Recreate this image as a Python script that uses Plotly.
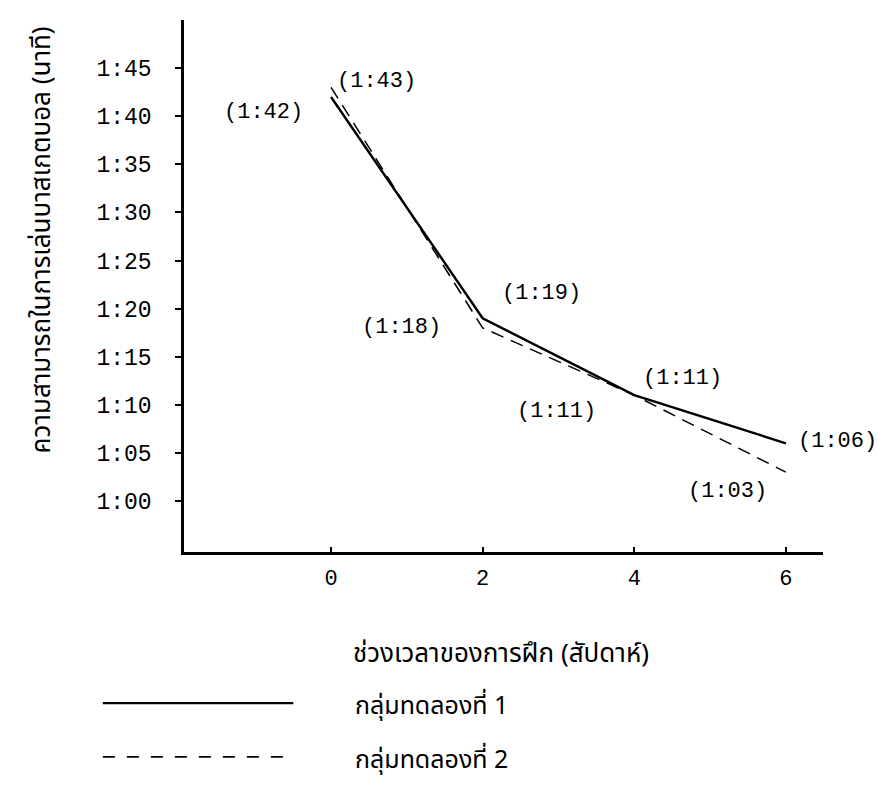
import plotly.graph_objects as go

# Data (seconds)
weeks = [0, 2, 4, 6]
group1 = [102, 79, 71, 66]   # กลุ่มทดลองที่ 1
group2 = [103, 78, 71, 63]   # กลุ่มทดลองที่ 2
label1 = ["(1:42)", "(1:19)", "(1:11)", "(1:06)"]
label2 = ["(1:43)", "(1:18)", "(1:11)", "(1:03)"]
ytick_vals = [60, 65, 70, 75, 80, 85, 90, 95, 100, 105]
ytick_text = ["1:00", "1:05", "1:10", "1:15", "1:20", "1:25", "1:30", "1:35", "1:40", "1:45"]
xtick_vals = [0, 2, 4, 6]

MONO = "Liberation Mono, Courier New, monospace"
THAI = "Noto Sans Thai, Loma, Garuda, Noto Sans, sans-serif"

fig = go.Figure()
fig.add_trace(go.Scatter(x=weeks, y=group1, mode="lines", line=dict(color="black", width=2.4), showlegend=False))
fig.add_trace(go.Scatter(x=weeks, y=group2, mode="lines", line=dict(color="black", width=1.5, dash="13px,8px"), showlegend=False))

# label offsets (pixels) per point: (xshift, yshift, xanchor)
off1 = [(-26, -16, "right"), (17, 25, "left"), (7, 17, "left"), (10, 2, "left")]
off2 = [(4, 6, "left"), (-40, 0, "right"), (-36, -16, "right"), (-17, -19, "right")]
for xs, ys, labs, offs in [(weeks, group1, label1, off1), (weeks, group2, label2, off2)]:
    for xv, yv, t, (dx, dy, anc) in zip(xs, ys, labs, offs):
        fig.add_annotation(x=xv, y=yv, text=t, showarrow=False, xanchor=anc, yanchor="middle",
                           xshift=dx, yshift=dy, font=dict(family=MONO, size=22, color="black"))

# axis titles
fig.add_annotation(xref="paper", yref="paper", x=-0.222, y=0.586, xanchor="center", yanchor="middle",
                   text="ความสามารถในการเล่นบาสเกตบอล (นาที)",
                   textangle=-90, showarrow=False, font=dict(family=THAI, size=26, color="black"))
fig.add_annotation(xref="paper", yref="paper", x=0.496, y=-0.192, xanchor="center", yanchor="middle",
                   text="ช่วงเวลาของการฝึก (สัปดาห์)",
                   showarrow=False, font=dict(family=THAI, size=26, color="black"))

# custom legend
fig.add_shape(type="line", xref="paper", yref="paper", x0=-0.127, x1=0.171, y0=-0.284, y1=-0.284,
              line=dict(color="black", width=2.4))
fig.add_shape(type="line", xref="paper", yref="paper", x0=-0.127, x1=0.171, y0=-0.385, y1=-0.385,
              line=dict(color="black", width=1.8, dash="12px,12px"))
fig.add_annotation(xref="paper", yref="paper", x=0.265, y=-0.284, xanchor="left", yanchor="middle", yshift=-3,
                   text="กลุ่มทดลองที่ 1", showarrow=False, font=dict(family=THAI, size=25, color="black"))
fig.add_annotation(xref="paper", yref="paper", x=0.265, y=-0.385, xanchor="left", yanchor="middle", yshift=-3,
                   text="กลุ่มทดลองที่ 2", showarrow=False, font=dict(family=THAI, size=25, color="black"))

fig.update_layout(
    width=883, height=785,
    margin=dict(l=176, r=68, t=12, b=241),
    paper_bgcolor="white", plot_bgcolor="white",
    xaxis=dict(range=[-1.94, 6.49], tickvals=xtick_vals, ticks="inside", ticklen=5, tickwidth=1.5,
               tickcolor="black", showline=True, linecolor="black", linewidth=2.5, showgrid=False,
               zeroline=False, ticklabelstandoff=4,
               tickfont=dict(family=MONO, size=22, color="black")),
    yaxis=dict(range=[54.7, 110], tickvals=ytick_vals, ticktext=ytick_text, ticks="outside", ticklen=6,
               tickwidth=2, tickcolor="black", showline=True, linecolor="black", linewidth=2.5,
               showgrid=False, zeroline=False, ticklabelstandoff=19,
               tickfont=dict(family=MONO, size=23, color="black")),
)

fig.write_html("out.html")
